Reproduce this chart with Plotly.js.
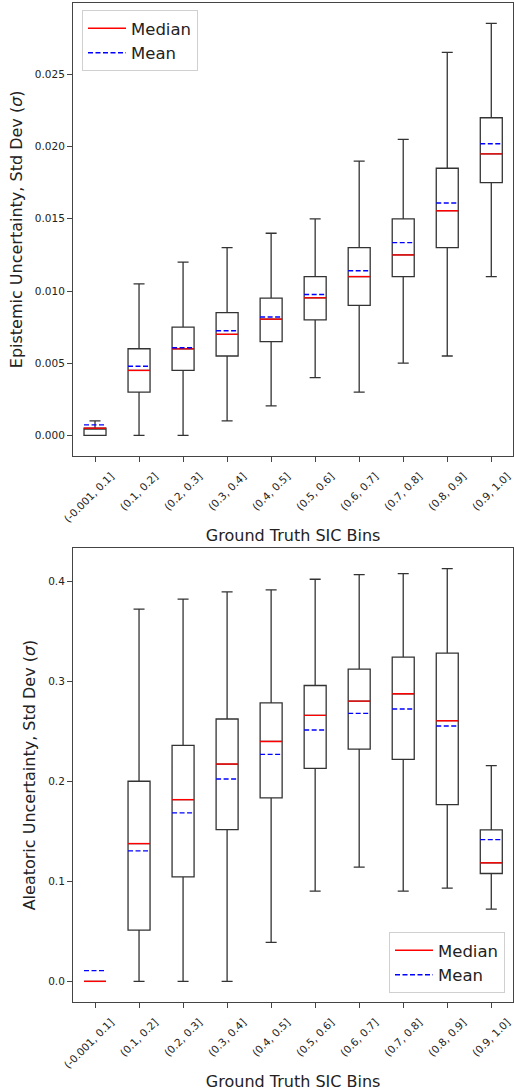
<!DOCTYPE html>
<html>
<head>
<meta charset="utf-8">
<script src="https://cdn.plot.ly/plotly-3.0.1.min.js"></script>
<style>
  html, body { margin: 0; padding: 0; background: #fff; }
  #chart { width: 514px; height: 1091px; }
</style>
</head>
<body>
<div id="chart"></div>
<script>
// ---- Data ----
const bins = ['(-0.001, 0.1]', '(0.1, 0.2]', '(0.2, 0.3]', '(0.3, 0.4]', '(0.4, 0.5]',
              '(0.5, 0.6]', '(0.6, 0.7]', '(0.7, 0.8]', '(0.8, 0.9]', '(0.9, 1.0]'];

// Epistemic uncertainty (top panel)
const epiLow  = [0, 0, 0, 0.001, 0.00205, 0.004, 0.003, 0.005, 0.0055, 0.011];
const epiQ1   = [0, 0.003, 0.0045, 0.0055, 0.0065, 0.008, 0.009, 0.011, 0.013, 0.0175];
const epiMed  = [0.0005, 0.0045, 0.006, 0.007, 0.00805, 0.00953, 0.011, 0.0125, 0.01556, 0.0195];
const epiQ3   = [0.0005, 0.006, 0.0075, 0.0085, 0.0095, 0.011, 0.013, 0.015, 0.0185, 0.022];
const epiHigh = [0.001, 0.0105, 0.012, 0.013, 0.014, 0.015, 0.019, 0.0205, 0.02652, 0.02854];
const epiMean = [0.00073, 0.00479, 0.00607, 0.00725, 0.0082, 0.00976, 0.0114, 0.01335, 0.0161, 0.0202];

// Aleatoric uncertainty (bottom panel)
const aleLow  = [0, 0, 0, 0, 0.0389, 0.0901, 0.1141, 0.0901, 0.0931, 0.0722];
const aleQ1   = [0, 0.0512, 0.1045, 0.1517, 0.1833, 0.2129, 0.2322, 0.2219, 0.1766, 0.1078];
const aleMed  = [0, 0.1377, 0.1816, 0.2172, 0.2398, 0.2658, 0.2801, 0.2874, 0.2605, 0.1185];
const aleQ3   = [0, 0.2, 0.2358, 0.2622, 0.2784, 0.2957, 0.312, 0.324, 0.328, 0.1514];
const aleHigh = [0, 0.372, 0.382, 0.3892, 0.3912, 0.4019, 0.4065, 0.4075, 0.4125, 0.2156];
const aleMean = [0.0107, 0.1304, 0.1684, 0.2023, 0.2269, 0.2512, 0.2678, 0.2722, 0.2552, 0.1417];

// ---- Styling ----
const FONT = 'DejaVu Sans, Liberation Sans, sans-serif';
const TXT = '#222';
const BOXW = 0.5;
const idx = bins.map((_, i) => i);

function boxTrace(low, q1, med, q3, high, xa, ya) {
  return {
    type: 'box', x: idx, q1: q1, median: med, q3: q3,
    lowerfence: low, upperfence: high,
    width: BOXW, whiskerwidth: 0.5, boxpoints: false,
    line: { color: '#333', width: 1.3 }, fillcolor: 'rgba(255,255,255,0)',
    showlegend: false, hoverinfo: 'skip', xaxis: xa, yaxis: ya
  };
}
function segTrace(vals, name, color, dash, xa, ya, legend) {
  const xs = [], ys = [];
  vals.forEach((v, i) => { xs.push(i - BOXW / 2, i + BOXW / 2, null); ys.push(v, v, null); });
  return {
    type: 'scatter', mode: 'lines', x: xs, y: ys, name: name,
    line: { color: color, width: 1.4, dash: dash },
    xaxis: xa, yaxis: ya, legend: legend, hoverinfo: 'skip'
  };
}
function padRange(low, high) {
  const lo = Math.min(...low), hi = Math.max(...high), s = hi - lo;
  return [lo - 0.05 * s, hi + 0.05 * s];
}

const data = [
  boxTrace(epiLow, epiQ1, epiMed, epiQ3, epiHigh, 'x', 'y'),
  segTrace(epiMed, 'Median', 'red', 'solid', 'x', 'y', 'legend'),
  segTrace(epiMean, 'Mean', 'blue', '5px,2.5px', 'x', 'y', 'legend'),
  boxTrace(aleLow, aleQ1, aleMed, aleQ3, aleHigh, 'x2', 'y2'),
  segTrace(aleMed, 'Median', 'red', 'solid', 'x2', 'y2', 'legend2'),
  segTrace(aleMean, 'Mean', 'blue', '5px,2.5px', 'x2', 'y2', 'legend2')
];

const W = 514, H = 1091;
const xDom = [73 / W, 513.3 / W];

function xAxis(anchor) {
  return {
    domain: xDom, anchor: anchor, range: [-0.5, bins.length - 0.5],
    tickmode: 'array', tickvals: idx, ticktext: bins, tickangle: -45,
    ticklabelshift: 16, ticklabelstandoff: 4,
    ticks: 'outside', ticklen: 5, tickwidth: 1, tickcolor: '#444',
    showline: true, mirror: true, linecolor: '#444', linewidth: 1,
    showgrid: false, zeroline: false, automargin: false,
    tickfont: { family: FONT, size: 10.5, color: TXT },
    title: { text: 'Ground Truth SIC Bins', font: { family: FONT, size: 16, color: TXT }, standoff: 6 }
  };
}
function yAxis(anchor, dom, range, dtick, fmt, title) {
  return {
    domain: dom, anchor: anchor, range: range,
    tick0: 0, dtick: dtick, tickformat: fmt,
    ticks: 'outside', ticklen: 5, tickwidth: 1, tickcolor: '#444',
    showline: true, mirror: true, linecolor: '#444', linewidth: 1,
    showgrid: false, zeroline: false, automargin: false,
    tickfont: { family: FONT, size: 10.5, color: TXT },
    title: { text: title, font: { family: FONT, size: 16, color: TXT }, standoff: 8 }
  };
}

const legendStyle = {
  font: { family: FONT, size: 16.5, color: TXT },
  bgcolor: 'rgba(255,255,255,0.85)', bordercolor: '#d0d0d0', borderwidth: 1,
  tracegroupgap: 0, itemwidth: 38
};

const layout = {
  width: W, height: H,
  margin: { l: 0, r: 0, t: 0, b: 0 },
  paper_bgcolor: '#fff', plot_bgcolor: '#fff',
  font: { family: FONT, color: TXT },
  xaxis: xAxis('y'),
  yaxis: yAxis('x', [(H - 456) / H, (H - 2.7) / H], padRange(epiLow, epiHigh), 0.005, '.3f',
               'Epistemic Uncertainty, Std Dev (<i>σ</i>)'),
  xaxis2: xAxis('y2'),
  yaxis2: yAxis('x2', [(H - 1002) / H, (H - 548) / H], padRange(aleLow, aleHigh), 0.1, '.1f',
                'Aleatoric Uncertainty, Std Dev (<i>σ</i>)'),
  legend: Object.assign({ x: 82 / W, xanchor: 'left', y: (H - 10) / H, yanchor: 'top' }, legendStyle),
  legend2: Object.assign({ x: 505 / W, xanchor: 'right', y: (H - 993) / H, yanchor: 'bottom' }, legendStyle),
  showlegend: true
};

Plotly.newPlot('chart', data, layout, { staticPlot: true, displayModeBar: false });
</script>
</body>
</html>
